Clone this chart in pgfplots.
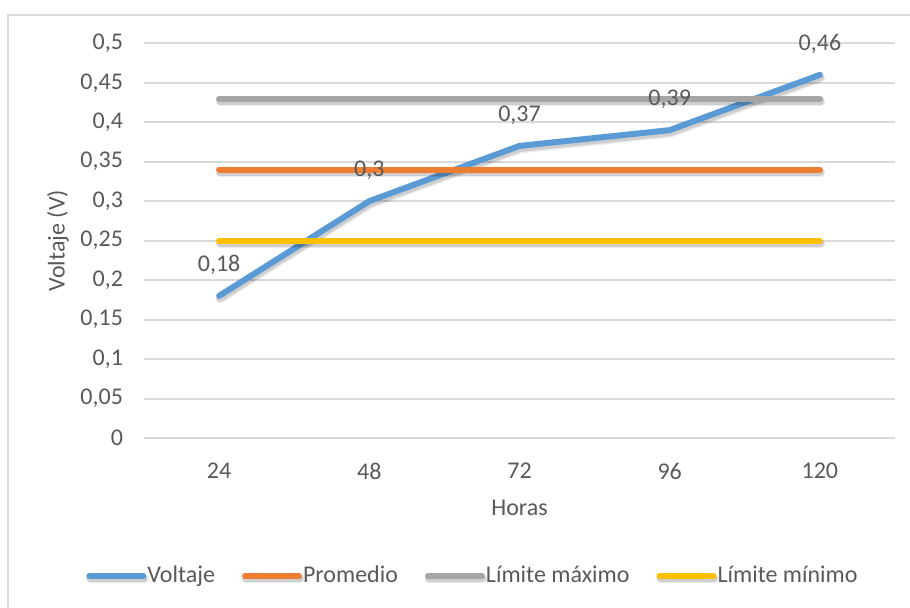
\documentclass[border=0pt]{standalone}
\usepackage{pgfplots}
\pgfplotsset{compat=1.18}
\usepackage{pgfplotstable}
\usepackage{fontspec}
\setmainfont{Carlito}

\definecolor{txt}{HTML}{595959}
\definecolor{gridc}{HTML}{D9D9D9}
\definecolor{cvolt}{HTML}{5B9BD5}
\definecolor{cprom}{HTML}{ED7D31}
\definecolor{cmax}{HTML}{A5A5A5}
\definecolor{cmin}{HTML}{FFC000}

% hours (category index), voltage readings
\pgfplotstableread{
x v
1 0.18
2 0.30
3 0.37
4 0.39
5 0.46
}\voltaje
\pgfplotstableread{
x v
1 0.34
5 0.34
}\promedio
\pgfplotstableread{
x v
1 0.43
5 0.43
}\limmax
\pgfplotstableread{
x v
1 0.25
5 0.25
}\limmin

% thick rounded series line with a soft drop shadow
\tikzset{
  serie/.style={line width=3pt, line cap=round, line join=round,
    preaction={draw=black, opacity=0.08, line width=4.4pt,
      transform canvas={xshift=0.5pt, yshift=-1.5pt}},
    preaction={draw=black, opacity=0.12, line width=3.4pt,
      transform canvas={xshift=0.4pt, yshift=-1.3pt}}},
}

\begin{document}
\begin{tikzpicture}
\useasboundingbox (0,0) rectangle (455pt,304pt);
\draw[gridc, line width=1pt] (4pt,0) -- (4pt,296.5pt) -- (456pt,296.5pt);
\begin{axis}[
  at={(72pt,85pt)}, anchor=south west,
  scale only axis, width=375.5pt, height=197.35pt,
  xmin=0.5, xmax=5.5, ymin=0, ymax=0.5,
  xtick={1,2,3,4,5}, xticklabels={24,48,72,96,120},
  ytick={0,0.05,...,0.5},
  /pgf/number format/use comma,
  /pgf/number format/fixed,
  /pgf/number format/precision=2,
  /pgf/number format/assume math mode=true,
  major tick length=0,
  axis x line=bottom, axis y line=left,
  x axis line style={-, draw=gridc, line width=1.2pt},
  y axis line style={draw=none},
  ymajorgrids, grid style={gridc, line width=1pt},
  tick label style={font=\fontsize{12pt}{14pt}\selectfont, text=txt},
  xticklabel style={yshift=-9pt},
  yticklabel style={xshift=-7pt},
  xlabel={Horas}, ylabel={Voltaje (V)},
  label style={font=\fontsize{12pt}{14pt}\selectfont, text=txt},
  xlabel style={at={(axis description cs:0.5,0)}, anchor=center, yshift=-35pt},
  ylabel style={at={(axis description cs:0,0.5)}, anchor=center, rotate=0, yshift=43pt},
  legend columns=4,
  legend style={at={(axis description cs:0.4374,-0.3496)}, anchor=center,
    draw=none, fill=none,
    font=\fontsize{12pt}{14pt}\selectfont, text=txt,
    nodes={inner xsep=0.5pt, inner ysep=1pt},
    /tikz/every odd column/.append style={column sep=0pt},
    /tikz/every even column/.append style={column sep=13pt}},
  legend image code/.code={\draw[#1, line width=3pt, line cap=round] (0pt,0pt) -- (27pt,0pt);},
  clip=false,
]
\addplot[cvolt, serie] table[x=x, y=v] {\voltaje};
\addlegendentry{Voltaje}
\addplot[cprom, serie] table[x=x, y=v] {\promedio};
\addlegendentry{Promedio}
\addplot[cmax, serie] table[x=x, y=v] {\limmax};
\addlegendentry{Límite máximo}
\addplot[cmin, serie] table[x=x, y=v] {\limmin};
\addlegendentry{Límite mínimo}
% value labels on top of all lines
\addplot[draw=none, forget plot, nodes near coords,
  nodes near coords style={font=\fontsize{12pt}{14pt}\selectfont, text=txt,
    anchor=center, yshift=15.5pt}]
  table[x=x, y=v] {\voltaje};
\end{axis}
\end{tikzpicture}
\end{document}
